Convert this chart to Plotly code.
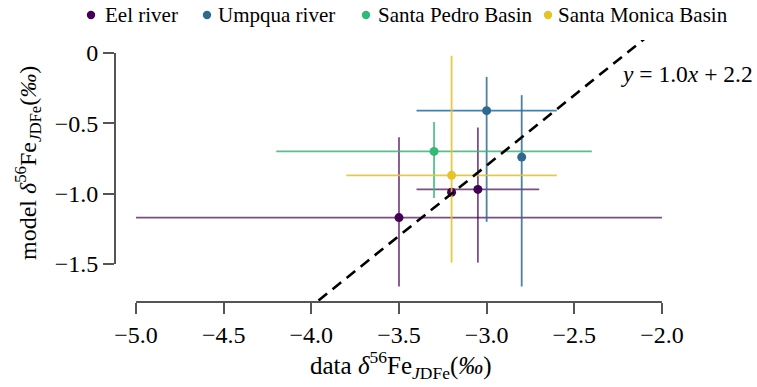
import plotly.graph_objects as go

# ---- data ----
eel_x = [-3.5, -3.2, -3.05]
eel_y = [-1.17, -0.99, -0.97]
eel_xerr = [1.5, 0.0, 0.35]
eel_yerr_plus = [0.57, 0.0, 0.44]
eel_yerr_minus = [0.49, 0.0, 0.52]

umpqua_x = [-3.0, -2.8]
umpqua_y = [-0.41, -0.74]
umpqua_xerr = [0.4, 0.0]
umpqua_yerr_plus = [0.24, 0.44]
umpqua_yerr_minus = [0.79, 0.92]

pedro_x = [-3.3]
pedro_y = [-0.70]
pedro_xerr = [0.9]
pedro_yerr_plus = [0.21]
pedro_yerr_minus = [0.33]

monica_x = [-3.2]
monica_y = [-0.87]
monica_xerr = [0.6]
monica_yerr_plus = [0.85]
monica_yerr_minus = [0.62]

fit_slope = 1.0
fit_intercept = 2.2
fit_x = [-5.0, -1.9]
fit_y = [fit_slope * v + fit_intercept for v in fit_x]

x_ticks = [-5.0, -4.5, -4.0, -3.5, -3.0, -2.5, -2.0]
y_ticks = [0, -0.5, -1.0, -1.5]

series_names = ["Eel river", "Umpqua river", "Santa Pedro Basin", "Santa Monica Basin"]
series_colors = ["#440154", "#31688e", "#35b779", "#e2c52c"]
series_err_colors = ["rgba(68,1,84,0.7)", "rgba(49,104,142,0.85)",
                     "rgba(53,183,121,0.85)", "rgba(226,197,44,0.9)"]

series_data = [
    (eel_x, eel_y, eel_xerr, eel_yerr_plus, eel_yerr_minus),
    (umpqua_x, umpqua_y, umpqua_xerr, umpqua_yerr_plus, umpqua_yerr_minus),
    (pedro_x, pedro_y, pedro_xerr, pedro_yerr_plus, pedro_yerr_minus),
    (monica_x, monica_y, monica_xerr, monica_yerr_plus, monica_yerr_minus),
]

FONT = "Liberation Serif, Times New Roman, serif"
SPINE = "#555555"

# full-window figure (page body margin removed below)
W, H = 757, 387
L, T, R, B = 115, 40, 77, 85
PW, PH = W - L - R, H - T - B


def px_x(p):  # window px -> paper x
    return (p - L) / PW


def px_y(p):  # window px -> paper y
    return (H - B - p) / PH


fig = go.Figure()
for name, (xs, ys, xe, yp, ym), col, ecol in zip(series_names, series_data,
                                                  series_colors, series_err_colors):
    fig.add_trace(go.Scatter(
        x=xs, y=ys, mode="markers", name=name, showlegend=False,
        marker=dict(size=9, color=col),
        error_x=dict(type="data", array=xe, symmetric=True, color=ecol, thickness=1.8, width=0),
        error_y=dict(type="data", array=yp, arrayminus=ym, symmetric=False, color=ecol,
                     thickness=1.8, width=0),
    ))

fig.add_trace(go.Scatter(
    x=fit_x, y=fit_y, mode="lines", showlegend=False, hoverinfo="skip",
    line=dict(color="black", width=2.6, dash="11px,7px"),
))

# legend drawn in a single row above the plot
legend_marker_px = [91, 207, 366, 548]
legend_text_px = [103, 216, 376, 556]
ly = px_y(15)
r_px = 4.2
for name, col, mx, tx in zip(series_names, series_colors, legend_marker_px, legend_text_px):
    cx = px_x(mx)
    fig.add_shape(type="circle", xref="paper", yref="paper",
                  x0=cx - r_px / PW, x1=cx + r_px / PW,
                  y0=ly - r_px / PH, y1=ly + r_px / PH,
                  fillcolor=col, line=dict(width=0))
    fig.add_annotation(x=px_x(tx), y=ly, xref="paper", yref="paper",
                       xanchor="left", yanchor="middle", text=name, showarrow=False,
                       font=dict(size=21, color="black", family=FONT))

fig.add_annotation(
    x=px_x(755), y=px_y(74), xref="paper", yref="paper", xanchor="right", yanchor="middle",
    text="<i>y</i> = %.1f<i>x</i> + %.1f" % (fit_slope, fit_intercept),
    showarrow=False, font=dict(size=23.5, color="black", family=FONT),
)

# axis titles
fig.add_annotation(
    x=px_x(401), y=px_y(365), xref="paper", yref="paper", xanchor="center", yanchor="middle",
    text="data <i>δ</i><sup>56</sup>Fe<sub><i>J</i>DFe</sub>(<i>‰</i>)",
    showarrow=False, font=dict(size=25, color="black", family=FONT),
)
fig.add_annotation(
    x=px_x(28), y=px_y(163), xref="paper", yref="paper", xanchor="center", yanchor="middle",
    text="model <i>δ</i><sup>56</sup>Fe<sub><i>J</i>DFe</sub>(<i>‰</i>)", textangle=-90,
    showarrow=False, font=dict(size=24, color="black", family=FONT),
)

# bounded spines
fig.add_shape(type="line", xref="x", yref="paper", x0=x_ticks[0], x1=x_ticks[-1], y0=0, y1=0,
              line=dict(color=SPINE, width=2))
fig.add_shape(type="line", xref="paper", yref="y", x0=0, x1=0, y0=y_ticks[-1], y1=y_ticks[0],
              line=dict(color=SPINE, width=2))

fig.update_layout(
    width=W, height=H,
    margin=dict(l=L, r=R, t=T, b=B, autoexpand=False),
    paper_bgcolor="white", plot_bgcolor="white",
    font=dict(family=FONT, size=24, color="black"),
    showlegend=False,
    xaxis=dict(range=[-5.12, -1.897], tickvals=x_ticks,
               ticktext=["\u2212%.1f" % abs(v) for v in x_ticks],
               showgrid=False, zeroline=False, showline=False,
               ticks="outside", ticklen=11, tickwidth=2, tickcolor=SPINE,
               tickfont=dict(size=24, family=FONT)),
    yaxis=dict(range=[-1.770, 0.092], tickvals=y_ticks,
               ticktext=["0" if v == 0 else "\u2212%.1f" % abs(v) for v in y_ticks],
               showgrid=False, zeroline=False, showline=False,
               ticks="outside", ticklen=11, tickwidth=2, tickcolor=SPINE,
               tickfont=dict(size=24, family=FONT)),
)

fig.write_html(
    "out.html",
    config={"displayModeBar": False},
    post_script="document.body.style.margin='0';document.body.style.padding='0';"
                "document.body.style.overflow='hidden';",
)
